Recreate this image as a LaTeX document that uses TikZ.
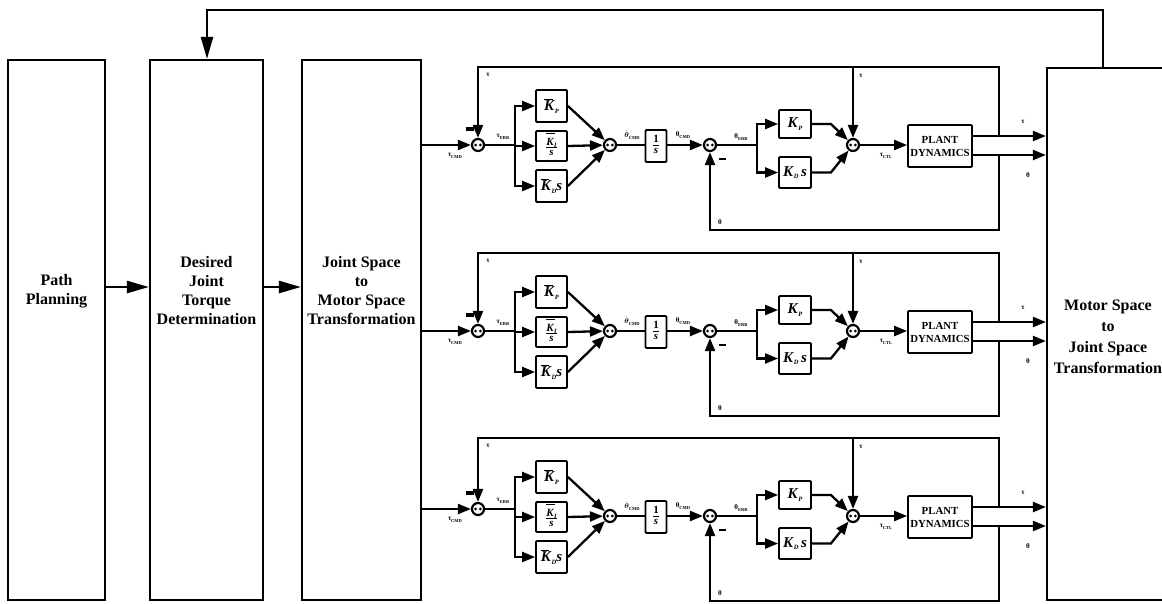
\documentclass[tikz,border=0pt]{standalone}
\usepackage{fontspec}
\setmainfont{Liberation Serif}
\usepackage{amsmath}
\usetikzlibrary{arrows.meta,calc}
\newcommand{\bK}{\textbf{\textit{K}}}
\newcommand{\ksb}[1]{\raisebox{-2.5pt}{\fontsize{6.5}{6.5}\selectfont\bfseries\itshape #1}}
\newcommand{\lsb}[1]{\raisebox{-1.6pt}{\fontsize{4.5}{4.5}\selectfont #1}}
\newcommand{\kbar}{\rlap{\raisebox{11.5pt}{\rule{8.5pt}{0.8pt}}}\bK}
\tikzset{
  bigbox/.style={draw, line width=2.2pt, inner sep=0pt},
  bigtxt/.style={font=\fontsize{16}{19}\selectfont\bfseries, align=center, inner sep=0pt},
  con/.style={line width=2.3pt},
  arr/.style={line width=2.3pt, -{Triangle[length=13pt,width=10pt]}},
  bigarr/.style={line width=2.4pt, -{Triangle[length=22pt,width=12pt]}},
  sumc/.style={draw, circle, line width=2.2pt, minimum size=12pt, inner sep=0pt, fill=white},
  blk/.style={draw, line width=1.8pt, rounded corners=1pt, fill=white, inner sep=1pt,
     minimum width=31pt, font=\fontsize{15}{15}\selectfont},
  lbl/.style={font=\fontsize{7}{7}\selectfont\bfseries, inner sep=0pt},
}
\begin{document}
\begin{tikzpicture}[x=1pt,y=-1pt]
\fill[white] (0,0) rectangle (1162,603);
\useasboundingbox (0,0) rectangle (1162,603);

% main blocks
\node[bigbox, minimum width=97pt, minimum height=540pt] (pp) at (56.5,330) {};
\node[bigbox, minimum width=113pt, minimum height=540pt] (dj) at (206.5,330) {};
\node[bigbox, minimum width=119pt, minimum height=540pt] (js) at (361.5,330) {};
\node[bigbox, minimum width=128pt, minimum height=532pt] (mj) at (1111,334) {};

\node[bigtxt] (ppt) at (56.5,291) {Path\\Planning};
\node[bigtxt] (djt) at (206.5,291) {Desired\\Joint\\Torque\\Determination};
\node[bigtxt] (jst) at (361.5,291) {Joint Space\\to\\Motor Space\\Transformation};
\node[bigtxt, font=\fontsize{16}{21}\selectfont\bfseries] (mjt) at (1108,337) {Motor Space\\to\\Joint Space\\Transformation};

\coordinate (a1) at (105,287);
\draw[bigarr] (pp.east |- a1) -- (dj.west |- a1);
\draw[bigarr] (dj.east |- a1) -- (js.west |- a1);

\coordinate (fb1) at (1103,68);
\coordinate (fb2) at (207,10);
\draw[bigarr] (fb1) |- (fb2) -- (dj.north -| fb2);

\foreach \dy/\ds/\r in {0/0/a,186/0/b,371/-7/c}{
  \pgfmathsetmacro{\Y}{145+\dy}
  \pgfmathsetmacro{\T}{67+\dy}
  \pgfmathsetmacro{\B}{230+\dy}
  \pgfmathsetmacro{\Ya}{\Y+\ds}
  % blocks
  \node[sumc] (sA\r) at (478,\Ya) {};
  \node[blk, minimum height=32pt] (kp\r) at (551.5,\Y-39) {\kbar\ksb{P}};
  \node[blk, minimum height=30pt, font=\fontsize{11}{11}\selectfont, inner sep=0pt] (ki\r) at (551.5,\Y+1)
     {\begin{tabular}{@{}c@{}}\rule{0pt}{11pt}\kbar\ksb{I}\\[-1pt]\hline\rule{0pt}{8pt}\textbf{\textit{s}}\end{tabular}};
  \node[blk, minimum height=32pt] (kd\r) at (551.5,\Y+41) {\kbar\ksb{D}\textbf{\textit{s}}};
  \node[sumc] (sB\r) at (610,\Y) {};
  \node[blk, minimum width=21pt, minimum height=32pt, font=\fontsize{11}{11}\selectfont, inner sep=0pt] (in\r) at (656,\Y+1)
     {\begin{tabular}{@{}c@{}}\textbf{1}\\[-1pt]\hline\rule{0pt}{8pt}\textbf{\textit{s}}\end{tabular}};
  \node[sumc] (sC\r) at (710,\Y) {};
  \node[blk, minimum width=32pt, minimum height=28pt] (pk\r) at (795,\Y-21) {\bK\ksb{P}};
  \node[blk, minimum width=32pt, minimum height=31pt] (dk\r) at (795,\Y+27.5) {\bK\ksb{D}\,\textbf{\textit{s}}};
  \node[sumc] (sD\r) at (853,\Y) {};
  \node[blk, minimum width=64pt, minimum height=42pt, align=center,
        font=\fontsize{10.8}{13}\selectfont\bfseries] (pl\r) at (940,\Y+1) {PLANT\\DYNAMICS};
  % summing junction marks
  \foreach \s in {sA\r,sB\r,sC\r,sD\r}{
    \fill ($(\s)+(-2.3,0)$) circle (1.5pt);
    \fill ($(\s)+(2.3,0)$) circle (1.5pt);
  }
  % connectors
  \draw[arr] (sA\r -| js.east) -- (sA\r);
  \coordinate (ba\r) at (515,\Ya);
  \draw[con] (sA\r.east) -- (ba\r);
  \draw[arr] (ba\r) |- (kp\r.west);
  \draw[arr] (ba\r) |- (kd\r.west);
  \draw[arr] (ba\r |- ki\r.west) -- (ki\r.west);
  \draw[arr] (kp\r.east) -- (sB\r);
  \draw[arr] (ki\r.east) -- (sB\r);
  \draw[arr] (kd\r.east) -- (sB\r);
  \draw[con] (sB\r.east) -- (in\r.west |- sB\r);
  \draw[arr] (in\r.east |- sC\r) -- (sC\r.west);
  \coordinate (bc\r) at (757,\Y);
  \draw[con] (sC\r.east) -- (bc\r);
  \draw[arr] (bc\r) |- (pk\r.west);
  \draw[arr] (bc\r) |- (dk\r.west);
  \draw[arr] (pk\r.east) -- ++(19,0) -- (sD\r);
  \draw[arr] (dk\r.east) -- ++(19,0) -- (sD\r);
  \draw[arr] (sD\r.east) -- (pl\r.west |- sD\r);
  \coordinate (pt\r) at ($(pl\r.east)+(0,-10)$);
  \coordinate (ph\r) at ($(pl\r.east)+(0,9)$);
  \draw[arr] (pt\r) -- (pt\r -| mj.west);
  \draw[arr] (ph\r) -- (ph\r -| mj.west);
  \coordinate (lr\r) at (999,\Y-9);
  \coordinate (tp\r) at (478,\T);
  \draw[arr] (lr\r) |- (tp\r) -- (sA\r.north);
  \draw[arr] (sD\r.north |- tp\r) -- (sD\r.north);
  \coordinate (lb\r) at (999,\Y+10);
  \coordinate (bt\r) at (710,\B);
  \draw[arr] (lb\r) |- (bt\r) -- (sC\r.south);
  % minus signs
  \draw[line width=3.2pt] (466,\Ya-16) -- (474,\Ya-16);
  \draw[line width=2pt] (719,\Y+14) -- (726,\Y+14);
  % labels
  \node[lbl] (l1\r) at (455,\Ya+11) {τ\lsb{CMD}};
  \node[lbl] (l2\r) at (488,\T+8) {τ};
  \node[lbl] (l3\r) at (503,\Ya-8) {τ\lsb{ERR}};
  \node[lbl] (l4\r) at (632,\Y-10) {$\dot{\boldsymbol\theta}$\lsb{CMD}};
  \node[lbl] (l5\r) at (683,\Y-10) {θ\lsb{CMD}};
  \node[lbl] (l6\r) at (741,\Y-8) {θ\lsb{ERR}};
  \node[lbl] (l7\r) at (861,\T+9) {τ};
  \node[lbl] (l8\r) at (720,\B-8) {θ};
  \node[lbl] (l9\r) at (886,\Y+11) {τ\lsb{CTL}};
  \node[lbl] (l10\r) at (1023,\Y-23) {τ};
  \node[lbl] (l11\r) at (1028,\Y+30) {θ};
}
\end{tikzpicture}
\end{document}
